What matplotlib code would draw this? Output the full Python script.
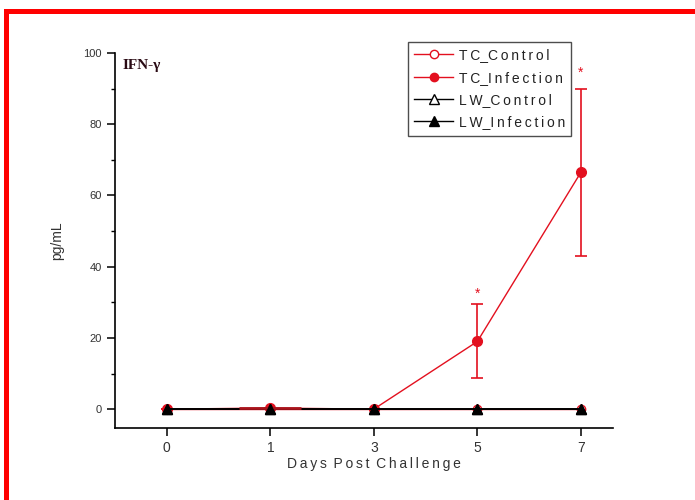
import matplotlib
matplotlib.use("Agg")
import matplotlib.pyplot as plt
from matplotlib.lines import Line2D
from matplotlib.patches import Rectangle

days = ["0", "1", "3", "5", "7"]
tc_control = [0, 0, 0, 0, 0]
tc_infection = [0, 0.3, 0, 19, 66.5]
tc_infection_err = [0, 0, 0, 10.4, 23.4]
tc_infection_xerr = [0, 0.3, 0, 0, 0]
lw_control = [0, 0, 0, 0, 0]
lw_infection = [0, 0, 0, 0, 0]
star_days = [3, 4]
star_values = [32.5, 94.5]

RED = "#e3101f"
TS = "\u2009"
plt.rcParams["font.family"] = ["Liberation Sans", "DejaVu Sans"]


def spaced(s):
    return TS.join(s)


fig = plt.figure(figsize=(6.95, 5), dpi=100)
ax = fig.add_axes([0.1655, 0.144, 0.7165, 0.75])
x = list(range(len(days)))

ax.errorbar(x, tc_infection, yerr=tc_infection_err,
            color=RED, ecolor=RED, lw=1, elinewidth=1.2, capsize=4,
            capthick=1.2, marker="o", ms=7, mfc=RED, mec=RED, zorder=3)
ax.plot(x, tc_control, color=RED, lw=1, marker="o", ms=6, mfc="white", mec=RED, zorder=2)
ax.plot(x, lw_control, color="black", lw=1.2, marker="^", ms=7, mfc="white", mec="black", zorder=4)
ax.plot(x, lw_infection, color="black", lw=1.2, zorder=5)
# horizontal bar at day 1 (no caps), drawn over the baseline
ax.errorbar(x, tc_infection, xerr=tc_infection_xerr, fmt="none",
            ecolor="#a8141c", elinewidth=2, capsize=0, zorder=6)
ax.plot(x, lw_infection, ls="none", marker="^", ms=7, mfc="black", mec="black", zorder=7)

for sx, sy in zip(star_days, star_values):
    ax.text(sx, sy, "*", color=RED, ha="center", va="center", fontsize=10)

ax.set_xlim(-0.5, 4.31)
ax.set_ylim(-5.3, 100)
ax.set_xticks(x)
ax.set_xticklabels(days)
ax.set_yticks([0, 20, 40, 60, 80, 100])
ax.set_yticks([10, 30, 50, 70, 90], minor=True)
ax.spines["top"].set_visible(False)
ax.spines["right"].set_visible(False)
for s in ["left", "bottom"]:
    ax.spines[s].set_linewidth(1.2)
ax.tick_params(axis="both", which="major", direction="out", length=6, width=1.1,
               colors="black", labelcolor="#333333")
ax.tick_params(axis="y", which="minor", direction="out", length=3, width=1)
ax.tick_params(axis="y", labelsize=8)
ax.tick_params(axis="x", labelsize=10)

ax.set_xlabel(spaced("Days") + " " + TS + spaced("Post") + " " + TS + spaced("Challenge"),
              fontsize=10, color="#333333", labelpad=2)
ax.xaxis.set_label_coords(0.519, -0.078)
ax.set_ylabel("pg/mL", fontsize=10, color="#333333", labelpad=14)

ax.text(0.015, 0.985, "IFN-\u03b3", transform=ax.transAxes, ha="left", va="top",
        fontsize=11, fontweight="bold", family=["Liberation Serif", "DejaVu Serif"],
        color="#2a0a14")

handles = [
    Line2D([], [], color=RED, lw=1, marker="o", ms=6, mfc="white", mec=RED),
    Line2D([], [], color=RED, lw=1, marker="o", ms=6, mfc=RED, mec=RED),
    Line2D([], [], color="black", lw=1, marker="^", ms=7, mfc="white", mec="black"),
    Line2D([], [], color="black", lw=1, marker="^", ms=7, mfc="black", mec="black"),
]
labels = [spaced("TC") + "_" + spaced("Control"), spaced("TC") + "_" + spaced("Infection"),
          spaced("LW") + "_" + spaced("Control"), spaced("LW") + "_" + spaced("Infection")]
leg = ax.legend(handles, labels, loc="upper left", bbox_to_anchor=(408 / 695, 1 - 42 / 500),
                bbox_transform=fig.transFigure,
                frameon=True, fancybox=False, edgecolor="#222222", fontsize=10,
                handlelength=2.8, handletextpad=0.4, labelspacing=0.6,
                borderpad=0.45, borderaxespad=0)
leg.get_frame().set_linewidth(1.0)
for t in leg.get_texts():
    t.set_color("#222222")

fig.add_artist(Rectangle((4 / 695, 0), 5 / 695, 1 - 9 / 500, transform=fig.transFigure,
                         color="#ff0000", lw=0))
fig.add_artist(Rectangle((4 / 695, 1 - 14 / 500), 1, 5 / 500, transform=fig.transFigure,
                         color="#ff0000", lw=0))

fig.savefig("out.png", dpi=100)
